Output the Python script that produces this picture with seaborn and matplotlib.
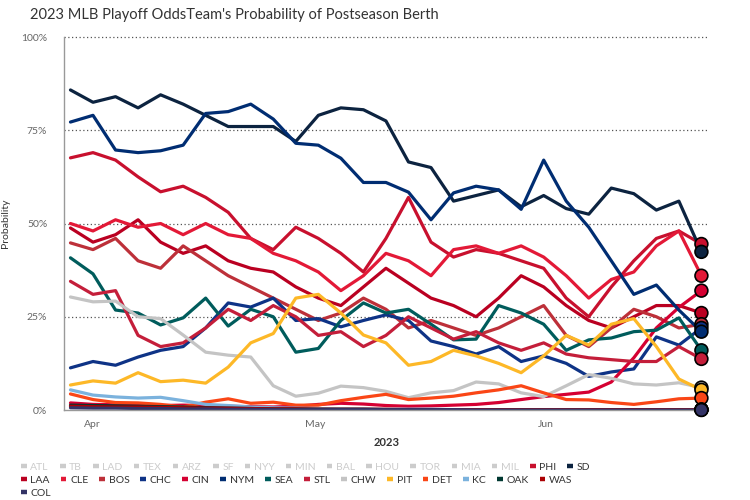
import pandas as pd
import matplotlib
matplotlib.use("Agg")
import matplotlib.pyplot as plt
import seaborn as sns
from matplotlib.lines import Line2D

# ~every 3 days from opening day to late June
dates = pd.date_range("2023-03-29", "2023-06-22", periods=29)

hidden_teams = ["ATL", "TB", "LAD", "TEX", "ARZ", "SF", "NYY", "MIN",
                "BAL", "HOU", "TOR", "MIA", "MIL"]
shown_teams = ["PHI", "SD", "LAA", "CLE", "BOS", "CHC", "CIN", "NYM", "SEA",
               "STL", "CHW", "PIT", "DET", "KC", "OAK", "WAS", "COL"]

team_colors = {
    "PHI": "#C8102E", "SD": "#0C2340", "LAA": "#BA0021", "CLE": "#E31937",
    "BOS": "#BD3039", "CHC": "#0E3386", "CIN": "#D50032", "NYM": "#002D72",
    "SEA": "#005C5C", "STL": "#C41E3A", "CHW": "#C4C4C4", "PIT": "#FDB827",
    "DET": "#FA4616", "KC": "#7BB2DD", "OAK": "#003831", "WAS": "#AB0003",
    "COL": "#333366",
}

# probability of postseason berth (%)
phi = [67.6, 69, 67, 62.5, 58.5, 60, 57, 53, 46, 43, 49, 46, 42, 37, 46,
       57, 45, 41, 43, 42, 40, 38, 30, 25, 33, 40, 46, 48, 44.5]
sd = [85.8, 82.5, 84, 81, 84.5, 82, 79, 76, 76, 76, 72, 79, 81, 80.5, 77.5,
      66.5, 65, 56, 57.5, 59, 54.5, 57.5, 54, 52.5, 59.5, 58, 53.6, 56, 42.4]
laa = [48.8, 45, 47, 51, 45, 42, 44, 40, 38, 37, 33, 30, 28, 33, 38,
       34, 30, 28, 25, 30, 36, 33, 28, 24, 22, 25, 28, 28, 26]
cle = [50, 48, 51, 49, 50, 47, 50, 47, 46, 42, 40, 37, 32, 36, 42,
       40, 36, 43, 44, 42, 44, 41, 36, 30, 35, 37, 44, 48, 36]
bos = [44.8, 43, 46, 40, 38, 44, 40, 36, 33, 30, 27, 24, 26, 30, 27,
       22, 24, 22, 20, 22, 25, 28, 20, 17, 22, 27, 25, 22, 23]
chc = [11.3, 13, 12, 14.2, 16, 17, 22, 28.7, 27.6, 30, 24, 24.5, 22.3, 24,
       25.5, 24, 18.5, 17, 15, 17, 13, 14.5, 12.5, 9, 10.2, 11, 19.6, 17.4, 22]
cin = [1.9, 1.5, 1.4, 1.3, 1.2, 1.3, 1.2, 1.0, 0.9, 0.8, 1.0, 1.5, 1.8, 1.6,
       1.2, 1.0, 1.1, 1.3, 1.5, 2.0, 2.8, 3.6, 4.2, 4.8, 7.5, 14, 22, 27.5, 32]
nym = [77.2, 79, 69.7, 69, 69.5, 71, 79.5, 80, 82, 78, 71.5, 71, 67.5, 61,
       61, 58.4, 51, 58.2, 60, 59, 53.8, 67, 56, 49, 40, 31, 33.5, 26.8, 21]
sea = [40.8, 36.5, 26.8, 26, 22.8, 24.7, 30, 22.5, 27, 25, 15.5, 16.5, 24,
       28.7, 26, 27, 23, 18.8, 19, 28, 26, 23, 16, 18.8, 19.3, 21, 21.4, 24.7, 16]
stl = [34.5, 31, 32, 20, 17, 18, 22, 27, 24, 28, 25, 20, 21, 17, 20,
       25, 22, 19, 21, 18, 16, 18, 15, 14, 13.5, 13, 13, 17, 13.7]
chw = [30.3, 29, 29.2, 25, 24.5, 20.1, 15.5, 14.7, 14.2, 6.5, 3.7, 4.5, 6.4,
       6, 5, 3.3, 4.6, 5.2, 7.5, 7, 4.6, 3.6, 6.5, 9.5, 8.5, 7, 6.7, 7.3, 6]
pit = [6.7, 7.8, 7.2, 10, 7.6, 8, 7.2, 11.5, 18, 20.5, 30, 31, 26, 20.1, 18,
       12, 13, 16, 14.5, 12.5, 10, 14.5, 20, 17.4, 23, 24.5, 17, 8.3, 5.4]
det = [4.3, 2.8, 2.0, 1.9, 1.5, 0.8, 2.1, 3.0, 1.8, 2.1, 1.3, 1.3, 2.5, 3.4,
       4.2, 2.8, 3.2, 3.7, 4.6, 5.4, 6.5, 4.6, 2.8, 2.7, 2.0, 1.5, 2.2, 3.0, 3.2]
kc = [5.4, 4.0, 3.5, 3.2, 3.4, 2.5, 1.5, 1.2, 0.8, 0.6, 0.5, 0.4, 0.3, 0.3,
      0.2, 0.2, 0.2, 0.1, 0.1, 0.1, 0.1, 0.1, 0.1, 0.1, 0.1, 0.1, 0.1, 0.1, 0.1]
oak = [1.3, 1.2, 1.1, 1.0, 0.9, 0.8, 0.6, 0.5, 0.4, 0.3, 0.3, 0.2, 0.2, 0.2,
       0.1, 0.1, 0.1, 0.1, 0.1, 0.1, 0.1, 0.1, 0.1, 0.1, 0.1, 0.1, 0.1, 0.1, 0.1]
was = [1.0, 0.9, 0.8, 0.8, 0.7, 0.6, 0.5, 0.5, 0.4, 0.3, 0.3, 0.2, 0.2, 0.2,
       0.2, 0.1, 0.1, 0.1, 0.1, 0.1, 0.1, 0.1, 0.1, 0.1, 0.1, 0.1, 0.1, 0.1, 0.1]
col = [0.6, 0.5, 0.5, 0.4, 0.4, 0.3, 0.3, 0.2, 0.2, 0.1, 0.1, 0.1, 0.1, 0.1,
       0.1, 0.1, 0.1, 0.1, 0.0, 0.0, 0.0, 0.0, 0.0, 0.0, 0.0, 0.0, 0.0, 0.0, 0.0]

series = {"PHI": phi, "SD": sd, "LAA": laa, "CLE": cle, "BOS": bos,
          "CHC": chc, "CIN": cin, "NYM": nym, "SEA": sea, "STL": stl,
          "CHW": chw, "PIT": pit, "DET": det, "KC": kc, "OAK": oak,
          "WAS": was, "COL": col}

df = pd.concat(
    [pd.DataFrame({"date": dates, "prob": vals, "team": team})
     for team, vals in series.items()],
    ignore_index=True,
)

sns.set_style("white")
plt.rcParams["font.family"] = ["Lato", "DejaVu Sans"]

fig = plt.figure(figsize=(7.5, 5), dpi=100)
ax = fig.add_axes([0.0853, 0.18, 0.859, 0.746])

sns.lineplot(data=df, x="date", y="prob", hue="team", hue_order=shown_teams,
             palette=team_colors, linewidth=2.3, legend=False, ax=ax,
             solid_joinstyle="round", solid_capstyle="round")

# end-of-line markers
last = df[df["date"] == dates[-1]]
sns.scatterplot(data=last, x="date", y="prob", hue="team",
                hue_order=shown_teams, palette=team_colors, s=85,
                edgecolor="black", linewidth=1.2, legend=False, ax=ax,
                zorder=5, clip_on=False)

ax.set_xlim(pd.Timestamp("2023-03-28 03:00"), pd.Timestamp("2023-06-22 22:00"))
ax.set_ylim(0, 100)

ax.set_yticks([0, 25, 50, 75, 100])
ax.set_yticklabels(["0%", "25%", "50%", "75%", "100%"])
ax.set_xticks([pd.Timestamp("2023-04-01"), pd.Timestamp("2023-05-01"),
               pd.Timestamp("2023-06-01")])
ax.set_xticklabels(["Apr", "May", "Jun"])
ax.tick_params(axis="y", length=0, pad=12, labelsize=7.5, labelcolor="#666666")
ax.tick_params(axis="x", length=5, width=1, color="#aaaaaa", pad=2,
               labelsize=7.5, labelcolor="#666666")

ax.grid(False)
for v in [25, 50, 75, 100]:
    ax.axhline(v, color="#555555", linestyle=(0, (1, 2)), linewidth=0.9,
               zorder=0, clip_on=False)

for s in ["top", "right"]:
    ax.spines[s].set_visible(False)
for s in ["left", "bottom"]:
    ax.spines[s].set_color("#999999")
    ax.spines[s].set_linewidth(1)

ax.set_xlabel("2023", fontsize=8, fontweight="bold", color="#333333",
              labelpad=6)
ax.set_ylabel("Probability", fontsize=7.5, color="#333333", labelpad=8)

fig.text(0.04, 0.97, "2023 MLB Playoff OddsTeam's Probability of Postseason Berth",
         fontsize=10.5, color="#333333", va="center", ha="left")

# legend: three rows, hidden series greyed out
def legend_row(teams, y):
    handles = []
    for t in teams:
        c = "#cccccc" if t in hidden_teams else team_colors[t]
        handles.append(Line2D([0], [0], color=c, linewidth=3.2,
                              solid_capstyle="butt"))
    leg = fig.legend(handles, teams, loc="center left",
                     bbox_to_anchor=(0.028, y), ncol=len(teams),
                     frameon=False, fontsize=7.5, handlelength=0.55,
                     handletextpad=0.35, columnspacing=1.05,
                     borderpad=0, borderaxespad=0)
    for txt, t in zip(leg.get_texts(), teams):
        txt.set_color("#cccccc" if t in hidden_teams else "#333333")
    return leg

legend_row(hidden_teams + ["PHI", "SD"], 0.066)
legend_row(["LAA", "CLE", "BOS", "CHC", "CIN", "NYM", "SEA", "STL", "CHW",
            "PIT", "DET", "KC", "OAK", "WAS"], 0.040)
legend_row(["COL"], 0.014)

fig.savefig("out.png", dpi=100)
